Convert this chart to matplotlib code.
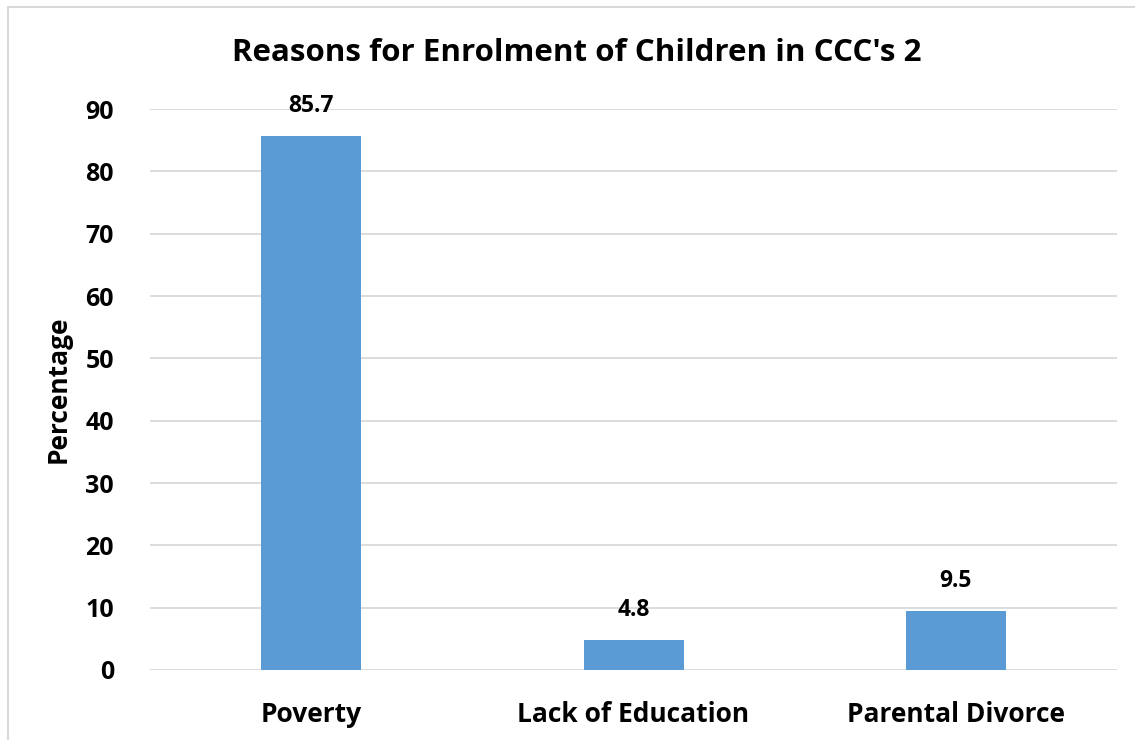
import matplotlib
matplotlib.use("Agg")
import matplotlib.pyplot as plt
from matplotlib.patches import Rectangle

categories = ["Poverty", "Lack of Education", "Parental Divorce"]
values = [85.7, 4.8, 9.5]
yticks = [0, 10, 20, 30, 40, 50, 60, 70, 80, 90]

plt.rcParams['font.family'] = ['Open Sans', 'DejaVu Sans']
plt.rcParams['font.weight'] = 'bold'

fig = plt.figure(figsize=(11.35, 7.4), dpi=100)
ax = fig.add_axes([0.1322, 0.0946, 0.852, 0.758])

x = list(range(len(categories)))
bars = ax.bar(x, values, width=0.31, color="#5B9BD5", zorder=3)
for xi, v in zip(x, values):
    ax.annotate(f"{v:.1f}", (xi, v), xytext=(0, 13), textcoords="offset points",
                ha="center", va="bottom", fontsize=16.5, fontweight="bold")

ax.set_xlim(-0.5, len(categories) - 0.5)
ax.set_ylim(0, 90)
ax.set_yticks(yticks)
ax.set_yticklabels([str(t) for t in yticks], fontsize=18, fontweight="bold")
ax.set_xticks(x)
ax.set_xticklabels(categories, fontsize=19, fontweight="bold")
ax.tick_params(axis="both", length=0)
ax.tick_params(axis="y", pad=26)
ax.tick_params(axis="x", pad=22)
ax.yaxis.grid(True, color="#D9D9D9", linewidth=1.3, zorder=0)
for s in ax.spines.values():
    s.set_visible(False)

ax.set_ylabel("Percentage", fontsize=19, fontweight="bold", labelpad=10)
fig.text(0.508, 0.928, "Reasons for Enrolment of Children in CCC's 2",
         ha="center", va="center", fontsize=22.5, fontweight="bold")

# outer chart frame
fig.patches.append(Rectangle((8 / 1135, -0.01), 1.02, 1 - 7 / 740 + 0.01,
                             transform=fig.transFigure, fill=False,
                             edgecolor="#D9D9D9", linewidth=1.5))

fig.savefig("out.png", dpi=100)
